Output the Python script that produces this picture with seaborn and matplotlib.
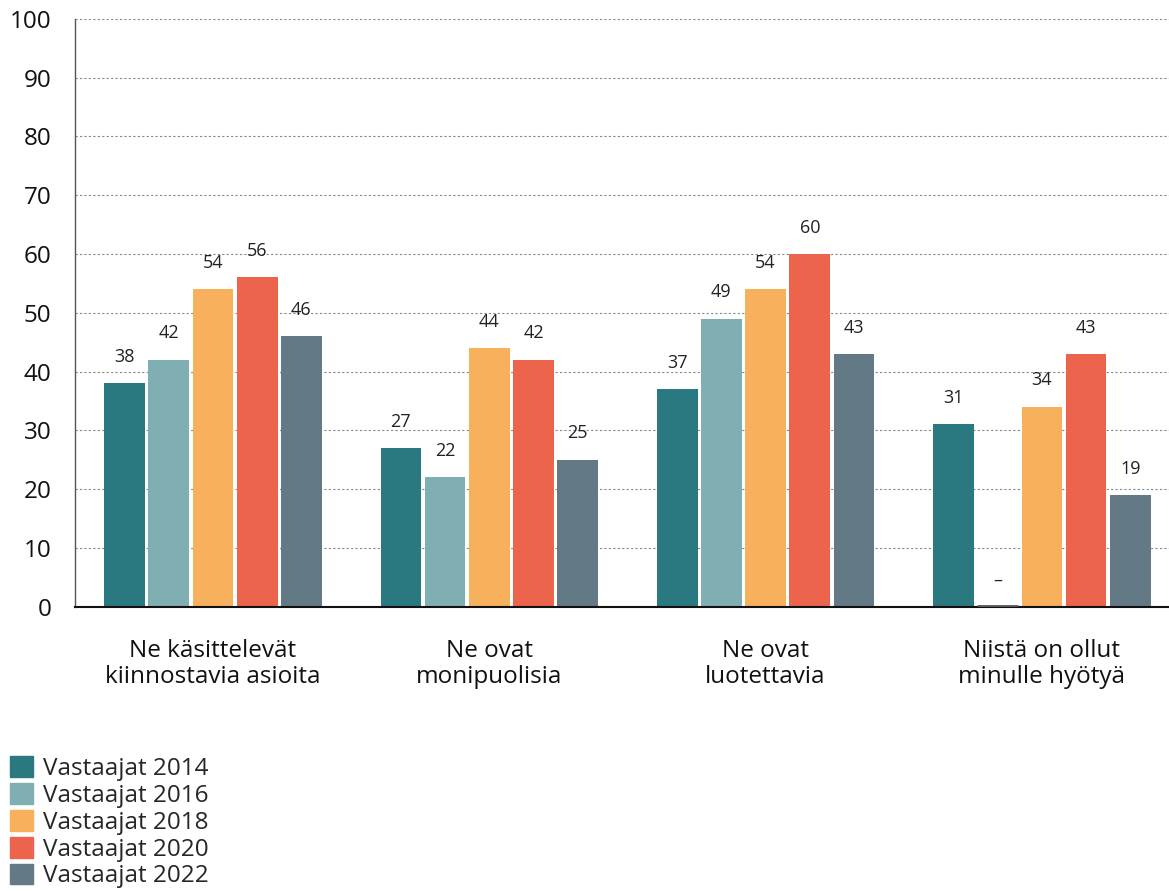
import numpy as np
import pandas as pd
import matplotlib
matplotlib.use("Agg")
import matplotlib.pyplot as plt
import seaborn as sns

# data
categories = ["Ne käsittelevät\nkiinnostavia asioita", "Ne ovat\nmonipuolisia",
              "Ne ovat\nluotettavia", "Niistä on ollut\nminulle hyötyä"]
series = ["Vastaajat 2014", "Vastaajat 2016", "Vastaajat 2018",
          "Vastaajat 2020", "Vastaajat 2022"]
v2014 = [38, 27, 37, 31]
v2016 = [42, 22, 49, np.nan]
v2018 = [54, 44, 54, 34]
v2020 = [56, 42, 60, 43]
v2022 = [46, 25, 43, 19]
colors = ["#2a7880", "#7fafb3", "#f7b05b", "#ec644b", "#637985"]

rows = []
for s, vals in zip(series, [v2014, v2016, v2018, v2020, v2022]):
    for c, v in zip(categories, vals):
        rows.append({"cat": c, "series": s, "value": v})
df = pd.DataFrame(rows)

sns.set_style("white")
plt.rcParams["font.family"] = ["Open Sans", "DejaVu Sans"]

fig = plt.figure(figsize=(11.69, 8.91), dpi=100)
ax = fig.add_axes([0.064, 0.319, 0.936, 0.660])

sns.barplot(data=df, x="cat", y="value", hue="series", palette=colors,
            width=0.8, gap=0.08, ax=ax, legend=False, saturation=1,
            linewidth=0)

# value labels (NaN bars are dropped by seaborn, so match bars to categories)
step = ax.containers[1][0].get_x() - ax.containers[0][0].get_x()
bw = ax.containers[0][0].get_width()
for si, cont in enumerate(ax.containers):
    placed = {}
    for bar in cont:
        ci = int(round(bar.get_x() + bar.get_width() / 2 + 0.4 - 0.08 - si * step))
        placed[ci] = bar
    for ci in range(len(categories)):
        if ci in placed:
            bar = placed[ci]
            x = bar.get_x() + bar.get_width() / 2
            h = bar.get_height()
            lab = f"{int(h)}"
        else:
            x0 = ax.containers[0][ci].get_x() + si * step
            x = x0 + bw / 2
            h = 0
            lab = "–"
            ax.plot([x0, x0 + bw], [0.15, 0.15], color="#555555", lw=2,
                    solid_capstyle="butt", zorder=3)
        ax.annotate(lab, (x, h), xytext=(0, 19), textcoords="offset points",
                    ha="center", va="center", fontsize=13, color="#222222")

ax.set_xlim(-0.5, 3.46)
ax.set_ylim(0, 100)
ax.set_yticks(range(0, 101, 10))
ax.yaxis.grid(True, linestyle=(0, (2, 2)), color="#888888", lw=0.8)
ax.set_axisbelow(True)
ax.set_xlabel("")
ax.set_ylabel("")
ax.tick_params(axis="y", labelsize=17.5, length=0, pad=17, labelcolor="#111111")
ax.tick_params(axis="x", labelsize=17.5, length=0, pad=23, labelcolor="#111111")
for lab in ax.get_xticklabels():
    lab.set_linespacing(1.15)
for sp in ["top", "right"]:
    ax.spines[sp].set_visible(False)
ax.spines["left"].set_color("#555555")
ax.spines["left"].set_linewidth(1)
ax.spines["bottom"].set_color("#111111")
ax.spines["bottom"].set_linewidth(1.5)

handles = [plt.Rectangle((0, 0), 1, 1, color=c) for c in colors]
fig.legend(handles, series, loc="upper left", bbox_to_anchor=(0.0, 0.162),
           frameon=False, fontsize=17.5, handlelength=0.95, handleheight=0.95,
           handletextpad=0.4, labelspacing=0.08, borderaxespad=0.2,
           borderpad=0.2)

fig.savefig("out.png", dpi=100)
